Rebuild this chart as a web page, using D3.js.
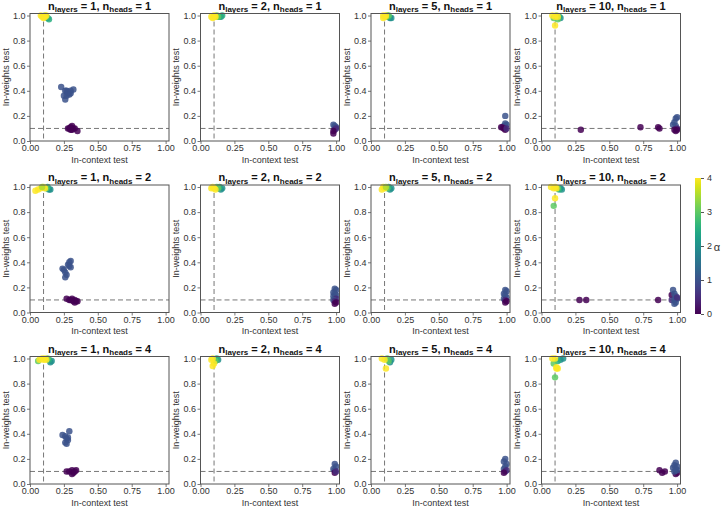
<!DOCTYPE html>
<html><head><meta charset="utf-8">
<script src="https://cdn.jsdelivr.net/npm/d3@7"></script>
<style>
body{margin:0;background:#fff;}
svg text{font-family:"Liberation Sans",Arial,sans-serif;}
</style></head>
<body><svg id="c" width="722" height="508"></svg>
<script>
// ---- data: [in-context test, in-weights test, alpha] ----
const layersList = [1, 2, 5, 10];
const headsList = [1, 2, 4];
const xTicks = [0, 0.25, 0.5, 0.75, 1.0];
const yTicks = [0, 0.2, 0.4, 0.6, 0.8, 1.0];
const cbTicks = [0, 1, 2, 3, 4];
const threshold = 0.1;

const d_L1_H1 = [[0.23,0.43,1],[0.26,0.40,1],[0.27,0.40,1],[0.28,0.38,1],[0.27,0.36,1],[0.25,0.36,1],[0.26,0.33,1],[0.29,0.37,1],[0.30,0.40,1],[0.32,0.41,1],[0.28,0.39,1],[0.30,0.38,1],
 [0.29,0.10,0],[0.30,0.11,0],[0.31,0.12,0],[0.30,0.09,0],[0.32,0.10,0],[0.31,0.09,0],[0.28,0.10,0],[0.33,0.10,0],[0.35,0.08,0],[0.30,0.10,0],
 [0.13,0.98,2],[0.14,0.97,2.5],[0.12,0.99,3],[0.11,1.0,3.5],[0.08,1.0,4],[0.09,0.99,4],[0.10,0.98,4],[0.11,0.99,4],[0.12,1.0,4]];
const d_L2_H1 = [[0.15,0.99,2],[0.16,1.0,2.5],[0.14,0.99,2.5],[0.13,0.99,3],[0.12,1.0,3],[0.11,0.99,3.5],[0.08,0.99,4],[0.09,0.98,4],[0.10,1.0,4],[0.11,0.99,4],
 [0.98,0.13,1],[0.99,0.12,1],[1.0,0.11,1],[0.99,0.10,1],[0.99,0.09,0.5],[1.0,0.10,0.5],[0.98,0.08,0],[0.98,0.06,0]];
const d_L5_H1 = [[0.14,0.98,2],[0.15,0.98,2],[0.13,0.99,2.5],[0.12,1.0,3],[0.13,1.0,3],[0.11,0.99,3.5],[0.09,1.0,4],[0.10,0.99,4],[0.09,0.98,4],[0.11,1.0,4],
 [0.99,0.20,1],[0.99,0.14,1],[1.0,0.13,1],[0.98,0.12,1],[0.97,0.11,0.5],[0.96,0.11,0],[0.98,0.10,0],[0.99,0.09,0],[1.0,0.10,0.5]];
const d_L10_H1 = [[0.14,0.98,2],[0.13,0.99,2.5],[0.12,0.97,3],[0.09,0.98,3],[0.11,1.0,3.5],[0.08,1.0,4],[0.10,0.99,4],[0.12,0.99,4],[0.10,0.92,4],
 [0.29,0.09,0],[0.73,0.11,0],[0.86,0.11,0],[0.87,0.10,0],
 [0.99,0.18,1],[1.0,0.19,1],[0.98,0.15,1],[0.97,0.13,1],[0.99,0.12,1],[1.0,0.10,0.5],[0.99,0.08,0],[1.0,0.09,0],[0.98,0.09,0]];
const d_L1_H2 = [[0.15,0.98,2],[0.14,0.98,2],[0.13,1.0,2.5],[0.12,0.99,3],[0.04,0.97,4],[0.06,0.98,4],[0.08,0.99,4],[0.10,1.0,4],[0.11,0.99,4],[0.09,1.0,3.5],
 [0.24,0.35,1],[0.25,0.34,1],[0.26,0.32,1],[0.27,0.30,1],[0.26,0.28,1],[0.28,0.38,1],[0.29,0.40,1],[0.30,0.41,1],[0.29,0.37,1],[0.30,0.36,1],
 [0.27,0.11,0],[0.29,0.10,0],[0.31,0.11,0],[0.33,0.10,0],[0.32,0.09,0],[0.34,0.09,0],[0.33,0.08,0],[0.35,0.09,0],[0.30,0.10,0]];
const d_L2_H2 = [[0.15,0.98,2],[0.16,0.99,2],[0.14,1.0,2.5],[0.13,0.99,3],[0.12,1.0,3],[0.08,0.99,4],[0.09,1.0,4],[0.10,0.99,4],[0.11,0.98,4],
 [0.99,0.19,1],[1.0,0.18,1],[0.98,0.16,1],[0.99,0.15,1],[1.0,0.14,1],[0.98,0.13,1],[0.99,0.12,1],[1.0,0.11,0.5],[0.98,0.10,1],[0.99,0.09,0.5],[1.0,0.08,0],[0.99,0.07,0]];
const d_L5_H2 = [[0.14,0.98,2],[0.15,0.99,2],[0.13,1.0,2.5],[0.12,0.99,3],[0.08,0.98,4],[0.09,1.0,4],[0.10,0.99,4],[0.11,1.0,3.5],
 [0.99,0.18,1],[1.0,0.17,1],[0.98,0.15,1],[0.99,0.14,1],[1.0,0.12,1],[0.98,0.11,1],[0.99,0.10,0.5],[1.0,0.09,0],[0.99,0.08,0]];
const d_L10_H2 = [[0.15,0.98,2],[0.14,0.99,2],[0.13,0.98,2.5],[0.12,0.99,3],[0.07,1.0,4],[0.09,0.99,4],[0.10,1.0,4],[0.11,0.99,4],[0.10,0.91,4],[0.09,0.85,3],
 [0.28,0.10,0],[0.33,0.10,0],[0.86,0.10,0],[0.96,0.14,0],[0.96,0.10,0.5],
 [0.97,0.18,1],[0.98,0.15,1],[0.99,0.13,1],[1.0,0.11,1],[0.98,0.10,1],[0.99,0.08,1],[0.98,0.07,1],[1.0,0.12,0.5]];
const d_L1_H4 = [[0.15,0.97,2],[0.16,0.98,2],[0.14,0.99,2.5],[0.13,1.0,3],[0.06,0.98,3],[0.07,0.99,4],[0.09,1.0,4],[0.10,0.99,4],[0.11,1.0,4],[0.12,0.99,4],
 [0.24,0.39,1],[0.26,0.38,1],[0.27,0.36,1],[0.28,0.35,1],[0.26,0.33,1],[0.27,0.32,1],[0.29,0.42,1],[0.28,0.37,1],
 [0.27,0.10,0],[0.29,0.10,0],[0.31,0.11,0],[0.32,0.09,0],[0.34,0.11,0],[0.31,0.08,0],[0.33,0.10,0]];
const d_L2_H4 = [[0.13,0.99,2],[0.12,1.0,2.5],[0.11,0.98,3],[0.08,0.99,4],[0.09,1.0,4],[0.10,0.96,4],[0.09,0.94,4],
 [0.99,0.16,1],[1.0,0.14,1],[0.98,0.12,1],[0.99,0.11,1],[0.99,0.09,0],[1.0,0.10,0.5]];
const d_L5_H4 = [[0.14,0.97,2],[0.15,0.99,2],[0.13,0.98,3],[0.12,1.0,3],[0.08,1.0,4],[0.10,0.99,4],[0.11,0.92,4],
 [0.99,0.20,1],[0.98,0.18,1],[1.0,0.16,1],[0.99,0.14,1],[0.98,0.12,1],[1.0,0.11,0.5],[0.99,0.10,0.5],[0.98,0.09,0]];
const d_L10_H4 = [[0.16,1.0,2],[0.14,0.99,2],[0.12,0.98,2.5],[0.09,0.96,3],[0.10,0.85,3],[0.08,1.0,4],[0.10,1.0,4],[0.11,0.92,4],[0.12,0.92,4],[0.11,0.93,4],
 [0.87,0.11,0],[0.89,0.09,0],[0.91,0.10,0],[0.99,0.08,0],[1.0,0.09,0],
 [0.98,0.15,1],[0.99,0.17,1],[1.0,0.14,1],[0.97,0.13,1],[0.99,0.12,1],[1.0,0.11,1],[0.98,0.10,1]];

const panels = [
 [d_L1_H1, d_L2_H1, d_L5_H1, d_L10_H1],
 [d_L1_H2, d_L2_H2, d_L5_H2, d_L10_H2],
 [d_L1_H4, d_L2_H4, d_L5_H4, d_L10_H4]
];

// ---- layout ----
const svg = d3.select("#c");
const colLeft = [30, 200.5, 371, 541.5];
const rowTop = [13.5, 185, 356.5];
const W = 139, H = 127.5;
const color = d3.scaleSequential(d3.interpolateViridis).domain([0, 4]);
const axisCol = "#555";
const textCol = "#333";

panels.forEach((row, ri) => {
  row.forEach((data, ci) => {
    const g = svg.append("g").attr("transform", `translate(${colLeft[ci]},${rowTop[ri]})`);
    const x = d3.scaleLinear().domain([0, 1.025]).range([0, W]);
    const y = d3.scaleLinear().domain([0, 1.016]).range([H, 0]);

    // title
    const t = g.append("text").attr("x", W / 2).attr("y", -4).attr("text-anchor", "middle")
      .attr("font-size", 11).attr("font-weight", "bold").attr("fill", "#111");
    t.append("tspan").text("n");
    t.append("tspan").attr("font-size", 8).attr("dy", 2.5).text("layers");
    t.append("tspan").attr("dy", -2.5).text(` = ${layersList[ci]}, n`);
    t.append("tspan").attr("font-size", 8).attr("dy", 2.5).text("heads");
    t.append("tspan").attr("dy", -2.5).text(` = ${headsList[ri]}`);

    // axes
    const xa = g.append("g").attr("transform", `translate(0,${H})`)
      .call(d3.axisBottom(x).tickValues(xTicks).tickFormat(d3.format(".2f")).tickSize(3).tickPadding(1));
    const ya = g.append("g")
      .call(d3.axisLeft(y).tickValues(yTicks).tickFormat(d3.format(".1f")).tickSize(3).tickPadding(1.5));
    [xa, ya].forEach(a => {
      a.select(".domain").remove();
      a.selectAll("line").attr("stroke", axisCol).attr("stroke-width", 0.8);
      a.selectAll("text").attr("fill", textCol).attr("font-size", 9)
        .style("font-family", '"Liberation Sans",Arial,sans-serif');
    });

    // threshold lines
    g.append("line").attr("x1", x(threshold)).attr("x2", x(threshold)).attr("y1", 0).attr("y2", H)
      .attr("stroke", "#777").attr("stroke-width", 1).attr("stroke-dasharray", "5,3");
    g.append("line").attr("x1", 0).attr("x2", W).attr("y1", y(threshold)).attr("y2", y(threshold))
      .attr("stroke", "#777").attr("stroke-width", 1).attr("stroke-dasharray", "5,3");

    // points
    g.append("g").selectAll("circle").data(data).join("circle")
      .attr("cx", d => x(d[0])).attr("cy", d => y(d[1])).attr("r", 3.2)
      .attr("fill", d => color(d[2])).attr("fill-opacity", 0.85);

    // frame
    g.append("rect").attr("width", W).attr("height", H).attr("fill", "none")
      .attr("stroke", axisCol).attr("stroke-width", 1);

    // axis labels
    g.append("text").attr("x", W / 2).attr("y", H + 21.5).attr("text-anchor", "middle")
      .attr("font-size", 9).attr("fill", textCol).text("In-context test");
    g.append("text").attr("transform", `translate(${-21.5},${H / 2}) rotate(-90)`).attr("text-anchor", "middle")
      .attr("font-size", 9).attr("fill", textCol).text("In-weights test");
  });
});

// ---- colorbar ----
const cbX = 695, cbW = 6, cbTop = 178, cbBot = 314;
const defs = svg.append("defs");
const grad = defs.append("linearGradient").attr("id", "vir").attr("x1", 0).attr("y1", 1).attr("x2", 0).attr("y2", 0);
d3.range(0, 1.0001, 0.05).forEach(s => grad.append("stop").attr("offset", s).attr("stop-color", d3.interpolateViridis(s)));
svg.append("rect").attr("x", cbX).attr("y", cbTop).attr("width", cbW).attr("height", cbBot - cbTop).attr("fill", "url(#vir)");
const cy = d3.scaleLinear().domain([0, 4]).range([cbBot, cbTop]);
const cba = svg.append("g").attr("transform", `translate(${cbX + cbW},0)`)
  .call(d3.axisRight(cy).tickValues(cbTicks).tickFormat(d3.format("d")).tickSize(3).tickPadding(3));
cba.select(".domain").remove();
cba.selectAll("line").attr("stroke", axisCol);
cba.selectAll("text").attr("fill", textCol).attr("font-size", 9).style("font-family", '"Liberation Sans",Arial,sans-serif');
svg.append("text").attr("x", 717).attr("y", 251).attr("text-anchor", "middle").attr("font-size", 11)
  .attr("fill", textCol).text("α");
</script></body></html>
